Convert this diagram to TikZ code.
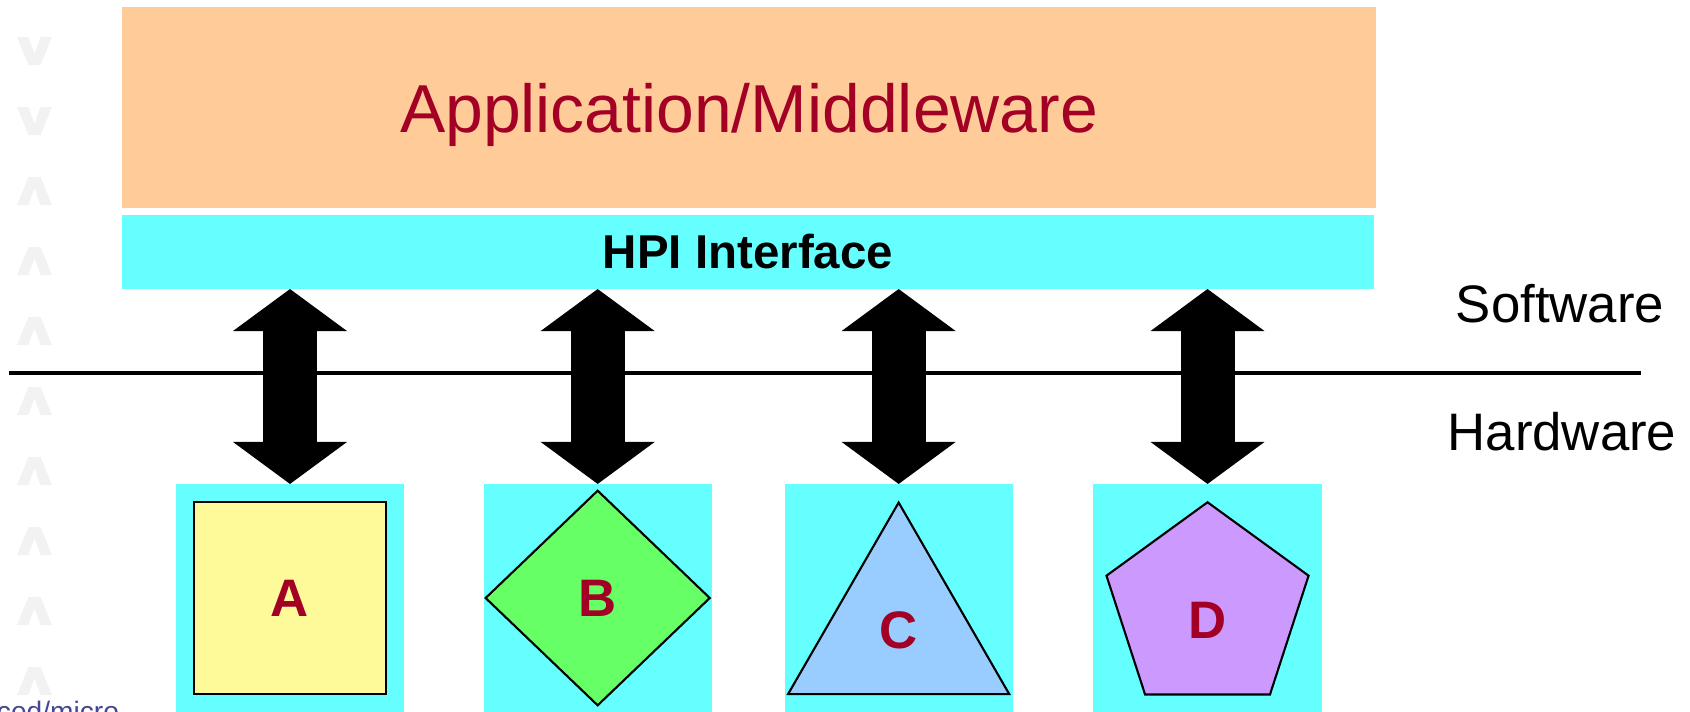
\documentclass[tikz,border=0pt]{standalone}
\usepackage{fontspec}
\setmainfont{Liberation Sans}
\usetikzlibrary{shapes.geometric, arrows.meta, positioning}

\definecolor{appfill}{RGB}{255,204,153}
\definecolor{hpifill}{RGB}{102,255,255}
\definecolor{ipred}{RGB}{163,0,38}
\definecolor{footblue}{RGB}{70,70,150}

\tikzset{
  x=0.01cm, y=-0.01cm, % one unit is one pixel of the slide, y runs down
  every node/.style={inner sep=0pt, outer sep=0pt},
  appbox/.style={fill=appfill, minimum width=12.54cm, minimum height=2.01cm,
    text=ipred, text depth=0pt, font=\fontsize{19.3}{23}\selectfont},
  hpibox/.style={fill=hpifill, minimum width=12.52cm, minimum height=0.74cm,
    font=\fontsize{13.5}{16}\selectfont\bfseries},
  ipbox/.style={fill=hpifill, minimum size=2.28cm}, % cyan tile behind each block
  ipshape/.style={draw, line width=0.6pt, text=ipred,
    font=\fontsize{15}{18}\selectfont\bfseries},
  sidelabel/.style={font=\fontsize{15}{18}\selectfont},
  bigarrow/.style={line width=0.54cm,
    {Triangle[width=1.14cm, length=0.42cm, line width=0pt]}-{Triangle[width=1.14cm, length=0.42cm, line width=0pt]}},
  divider/.style={line width=0.04cm},
  chevron/.style={fill=black!5}, % faint marks down the left edge
}

\begin{document}
\begin{tikzpicture}[on grid]
  \useasboundingbox (0,0) rectangle (1690,711);

  % faint chevrons on the left
  \foreach \y in {51,121}
    \fill[chevron] (17,\y-14) -- ++(11.5,0) -- ++(6,17) -- ++(6,-17) -- ++(11.5,0)
      -- ++(-11.5,28) -- ++(-12,0) -- cycle;
  \foreach \y in {191,261,331,401,471,541,611,681}
    \fill[chevron] (17,\y+14) -- ++(11.5,0) -- ++(6,-17) -- ++(6,17) -- ++(11.5,0)
      -- ++(-11.5,-28) -- ++(-12,0) -- cycle;
  \node[anchor=base west, text=footblue, font=\fontsize{8}{10}\selectfont] (foot) at (-3,721) {ced/micro};

  % software layers
  \node[appbox] (app) at (749,107.5) {Application/Middleware};
  \node[hpibox] (hpi) at (748,252) {HPI Interface};

  % hardware blocks
  \node[ipbox] (boxA) at (290,598) {};
  \node[ipbox, right=3.075cm of boxA] (boxB) {};
  \node[ipbox, right=3.008cm of boxB] (boxC) {};
  \node[ipbox, right=3.087cm of boxC] (boxD) {};

  \node[ipshape, fill=yellow!40, minimum size=1.92cm, line width=0.7pt] (blockA) at (boxA) {A};
  \node[ipshape, fill={rgb,255:red,102;green,255;blue,102}, diamond, minimum width=2.24cm, minimum height=2.145cm] (blockB) at (boxB) {B};
  \node[ipshape, fill={rgb,255:red,153;green,204;blue,255}, regular polygon, regular polygon sides=3,
    minimum size=2.552cm] (blockC) at ([yshift=-0.322cm]boxC.center) {C};
  \node[ipshape, fill={rgb,255:red,204;green,153;blue,255}, regular polygon, regular polygon sides=5,
    minimum size=2.124cm, text height=0.59cm] (blockD) at ([yshift=-0.105cm]boxD.center) {D};

  % software / hardware border
  \coordinate (divL) at (9,373);
  \coordinate (divR) at (1641,373);
  \draw[divider] (divL) -- (divR);
  \node[sidelabel] (sw) at (1560,304) {Software};
  \node[sidelabel] (hw) at (1562,432) {Hardware};

  % links between HPI and the blocks
  \foreach \b in {boxA,boxB,boxC,boxD}
    \draw[bigarrow] (hpi.south -| \b.north) -- (\b.north);
\end{tikzpicture}
\end{document}
